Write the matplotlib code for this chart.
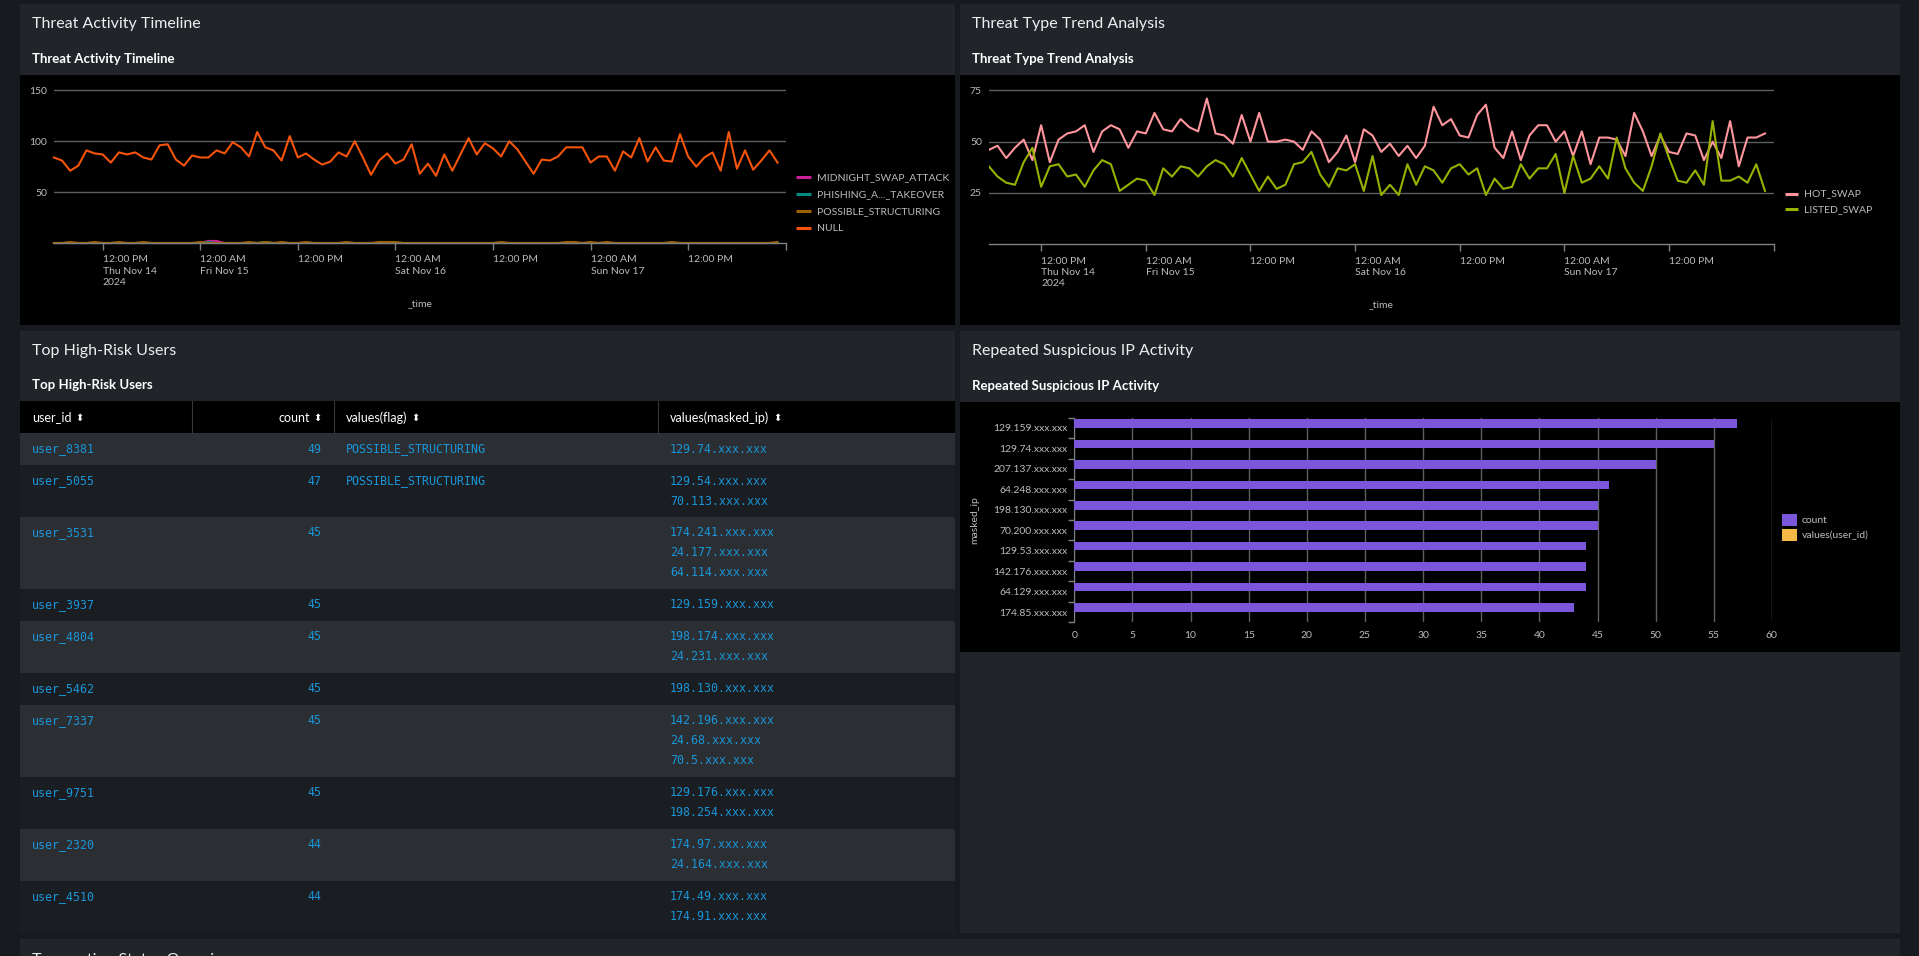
import pandas as pd
import matplotlib
matplotlib.use("Agg")
import matplotlib.pyplot as plt
import matplotlib.dates as mdates
from matplotlib.patches import Rectangle

plt.rcParams["font.family"] = ["Lato", "DejaVu Sans"]

# ---- data ----
hours = pd.date_range("2024-11-14 06:00", periods=90, freq="h")

null_counts = [84, 81, 71, 76, 91, 88, 87, 79, 89, 87, 89, 84, 82, 96, 97, 82, 76, 86, 84, 84,
               91, 88, 99, 94, 85, 109, 94, 91, 81, 105, 84, 88,
               82, 77, 80, 89, 85, 100, 84, 67, 81, 88, 78, 82, 97, 68, 78, 66, 87, 71,
               87, 103, 87, 98, 93, 85, 100, 92, 80, 68, 82, 81, 85,
               94, 94, 94, 79, 85, 85, 71, 90, 84, 103, 80, 94, 81, 80, 107, 85, 75, 84,
               89, 71, 109, 73, 91, 72, 81, 91, 79]
possible_structuring = [0, 0, 1, 0, 0, 1, 0, 0, 1, 0, 0, 1, 0, 0, 0, 0, 0, 0, 1, 0,
                        0, 0, 0, 0, 1, 0, 1, 0, 1, 0, 0, 1, 0, 0, 0, 0, 1, 0, 0, 0,
                        1, 1, 1, 0, 0, 0, 0, 0, 0, 0, 0, 0, 0, 0, 0, 1, 0, 0, 0, 0,
                        0, 0, 0, 1, 1, 0, 1, 0, 1, 0, 0, 0, 0, 0, 0, 0, 1, 0, 0, 0,
                        0, 0, 0, 0, 0, 0, 0, 0, 0, 1]
phishing_takeover = [0] * 19 + [1] + [0] * 6 + [1] + [0] * 63
midnight_swap = [0] * 19 + [2, 2] + [0] * 69

hot_swap = [46, 48, 42, 47, 51, 41, 58, 40, 51, 54, 55, 58, 45, 55, 58, 56, 47, 55, 54, 64,
            56, 55, 61, 57, 55, 71, 54, 53, 49, 63, 50, 64, 50, 50, 51,
            50, 46, 55, 51, 40, 45, 53, 40, 56, 53, 45, 49, 43, 48, 42, 48, 67, 58, 61, 53,
            52, 63, 68, 47, 42, 55, 41, 53, 58, 58, 50,
            55, 43, 55, 39, 52, 52, 51, 43, 64, 55, 43, 53, 45, 44, 54, 53, 41, 50, 42, 60,
            38, 52, 52, 54]
listed_swap = [38, 33, 30, 29, 40, 47, 28, 38, 39, 33, 34, 28, 36, 41, 39, 26, 29, 32, 31, 24,
               37, 33, 38, 37, 33, 38, 41, 39, 33, 42, 34, 26, 33, 27, 29,
               39, 40, 45, 34, 28, 37, 36, 39, 26, 43, 24, 29, 24, 39, 29, 38, 36, 30, 37, 39,
               34, 37, 24, 32, 27, 28, 39, 32, 37, 37, 44,
               25, 43, 30, 32, 38, 32, 52, 37, 30, 26, 38, 54, 42, 31, 30, 36, 29, 60, 31, 31,
               33, 30, 39, 26]

tick_labels = ["12:00 PM\nThu Nov 14\n2024", "12:00 AM\nFri Nov 15", "12:00 PM",
               "12:00 AM\nSat Nov 16", "12:00 PM", "12:00 AM\nSun Nov 17", "12:00 PM"]

masked_ips = ["129.159.xxx.xxx", "129.74.xxx.xxx", "207.137.xxx.xxx", "64.248.xxx.xxx",
              "198.130.xxx.xxx", "70.200.xxx.xxx", "129.53.xxx.xxx", "142.176.xxx.xxx",
              "64.129.xxx.xxx", "174.85.xxx.xxx"]
ip_counts = [57, 55, 50, 46, 45, 45, 44, 44, 44, 43]

user_ids = ["user_8381", "user_5055", "user_3531", "user_3937", "user_4804",
            "user_5462", "user_7337", "user_9751", "user_2320", "user_4510"]
user_counts = [49, 47, 45, 45, 45, 45, 45, 45, 44, 44]
user_flags = ["POSSIBLE_STRUCTURING", "POSSIBLE_STRUCTURING", "", "", "", "", "", "", "", ""]
user_ips = [["129.74.xxx.xxx"],
            ["129.54.xxx.xxx", "70.113.xxx.xxx"],
            ["174.241.xxx.xxx", "24.177.xxx.xxx", "64.114.xxx.xxx"],
            ["129.159.xxx.xxx"],
            ["198.174.xxx.xxx", "24.231.xxx.xxx"],
            ["198.130.xxx.xxx"],
            ["142.196.xxx.xxx", "24.68.xxx.xxx", "70.5.xxx.xxx"],
            ["129.176.xxx.xxx", "198.254.xxx.xxx"],
            ["174.97.xxx.xxx", "24.164.xxx.xxx"],
            ["174.49.xxx.xxx", "174.91.xxx.xxx"]]

# ---- colours ----
PAGE = "#171b1f"
PANEL = "#212529"
ROW_LIGHT = "#2b2f33"
ROW_DARK = "#1a1d21"
GRID = "#5c5f62"
AXIS = "#7d8084"
TICK = "#b9bcbf"
LINK = "#1a96d8"

W, H = 1919, 956
fig = plt.figure(figsize=(W / 100, H / 100), dpi=100, facecolor=PAGE)


def px_rect(x0, y0, x1, y1):
    return [x0 / W, 1 - y1 / H, (x1 - x0) / W, (y1 - y0) / H]


bg = fig.add_axes([0, 0, 1, 1])
bg.set_xlim(0, W)
bg.set_ylim(H, 0)
bg.axis("off")


def box(x0, y0, x1, y1, color):
    bg.add_patch(Rectangle((x0, y0), x1 - x0, y1 - y0, facecolor=color, edgecolor="none"))


# panels
box(20, 4, 955, 75, PANEL)
box(20, 75, 955, 325, "black")
box(960, 4, 1900, 75, PANEL)
box(960, 75, 1900, 325, "black")
box(20, 331, 955, 933, PANEL)
box(960, 331, 1900, 933, PANEL)
box(960, 402, 1900, 652, "black")
box(20, 939, 1900, 956, PANEL)

for x, y, title in [(32, 24, "Threat Activity Timeline"), (972, 24, "Threat Type Trend Analysis"),
                    (32, 351, "Top High-Risk Users"), (972, 351, "Repeated Suspicious IP Activity"),
                    (32, 960, "Transaction Status Overview")]:
    bg.text(x, y, title, fontsize=11.5, color="#eceef0", va="center")
for x, y, title in [(32, 58.5, "Threat Activity Timeline"), (972, 58.5, "Threat Type Trend Analysis"),
                    (32, 385, "Top High-Risk Users"), (972, 385.5, "Repeated Suspicious IP Activity")]:
    bg.text(x, y, title, fontsize=9.5, weight="bold", color="white", va="center")

# ---- table ----
box(20, 401, 955, 433, "black")
for sx in [192.3, 333.7, 657.7]:
    bg.plot([sx, sx], [401, 433], color="#33383d", lw=0.8)
header_y = 417.5
for x, label, ha in [(32, "user_id", "left"), (310, "count", "right"),
                     (346, "values(flag)", "left"), (670, "values(masked_ip)", "left")]:
    t = bg.text(x, header_y, label, fontsize=9, color="white", va="center", ha=ha)
    if ha == "left":
        bg.annotate("⬍", xy=(1, 0.5), xycoords=t, xytext=(3, 0), textcoords="offset points",
                    fontsize=7, color="white", va="center", family="DejaVu Sans")
    else:
        bg.text(x + 3, header_y, "⬍", fontsize=7, color="white", va="center",
                family="DejaVu Sans")

y = 433
for i, (uid, cnt, flag, ips) in enumerate(zip(user_ids, user_counts, user_flags, user_ips)):
    h = 12 + 20 * len(ips)
    box(20, y, 955, y + h, ROW_LIGHT if i % 2 == 0 else ROW_DARK)
    cell = dict(fontsize=8.4, color=LINK, va="center", family="DejaVu Sans Mono")
    bg.text(32, y + 16, uid, **cell)
    bg.text(321.5, y + 16, str(cnt), ha="right", **cell)
    bg.text(346, y + 16, flag, **cell)
    for k, ip in enumerate(ips):
        bg.text(670, y + 16 + 20 * k, ip, **cell)
    y += h


# ---- time charts ----
t_num = mdates.date2num(hours.to_pydatetime())
tick_pos = mdates.date2num(pd.date_range("2024-11-14 12:00", periods=7, freq="12h").to_pydatetime())
x_start = mdates.date2num(pd.Timestamp("2024-11-14 06:00").to_pydatetime())
x_end = mdates.date2num(pd.Timestamp("2024-11-18 00:00").to_pydatetime())


def style_time_axis(ax, ymax, yticks):
    ax.set_facecolor("black")
    ax.set_xlim(x_start, x_end)
    ax.set_ylim(0, ymax)
    for side in ["top", "right", "left"]:
        ax.spines[side].set_visible(False)
    ax.spines["bottom"].set_color(AXIS)
    ax.spines["bottom"].set_linewidth(1)
    ax.set_yticks(yticks)
    ax.set_yticklabels([str(v) for v in yticks])
    ax.tick_params(axis="y", length=0, pad=5, labelsize=7.5, labelcolor=TICK)
    ax.set_xticks(list(tick_pos) + [x_end])
    ax.set_xticklabels(tick_labels + [""], ha="left", linespacing=1.3)
    ax.tick_params(axis="x", length=5, width=1, color=AXIS, pad=4, labelsize=7.5, labelcolor=TICK)
    ax.grid(axis="y", color=GRID, lw=1)
    ax.set_axisbelow(True)
    ax.set_xlabel("_time", fontsize=7.5, color=TICK)
    ax.xaxis.label.set_va("center")


ax1 = fig.add_axes(px_rect(53.9, 89.3, 785.7, 243))
series1 = [("MIDNIGHT_SWAP_ATTACK", midnight_swap, "#cb2196"),
           ("PHISHING_A..._TAKEOVER", phishing_takeover, "#008c80"),
           ("POSSIBLE_STRUCTURING", possible_structuring, "#9d6300"),
           ("NULL", null_counts, "#f6540b")]
for name, vals, col in series1:
    ax1.plot(t_num, vals, color=col, lw=1.5, label=name, clip_on=False)
style_time_axis(ax1, 151, [50, 100, 150])
ax1.xaxis.set_label_coords(0.5, -(304 - 243) / (243 - 89.3))
for k, (name, vals, col) in enumerate(series1):
    yy = 177.3 + 17 * k
    bg.plot([796, 811], [yy, yy], color=col, lw=2.2, solid_capstyle="butt")
    bg.text(817.5, yy, name, fontsize=7.5, color=TICK, va="center")

ax2 = fig.add_axes(px_rect(988.8, 89.3, 1773.7, 244.3))
series2 = [("HOT_SWAP", hot_swap, "#ff969e"), ("LISTED_SWAP", listed_swap, "#99b100")]
for name, vals, col in series2:
    ax2.plot(t_num, vals, color=col, lw=1.5, label=name)
style_time_axis(ax2, 75.5, [25, 50, 75])
ax2.xaxis.set_label_coords(0.5, -(305 - 244.3) / (244.3 - 89.3))
for k, (name, vals, col) in enumerate(series2):
    yy = 194 + 15.3 * k
    bg.plot([1785, 1798], [yy, yy], color=col, lw=2.2, solid_capstyle="butt")
    bg.text(1804, yy, name, fontsize=7.5, color=TICK, va="center")

# ---- bar chart ----
ax3 = fig.add_axes(px_rect(1074.3, 417.7, 1771.9, 622.3))
ax3.set_facecolor("black")
pos = list(range(len(masked_ips)))
ax3.barh([p - 0.22 for p in pos], ip_counts, height=0.42, color="#7b56db", zorder=3)
ax3.set_xlim(0, 60)
ax3.set_ylim(len(masked_ips) - 0.5, -0.5)
ax3.set_yticks(pos)
ax3.set_yticklabels(masked_ips)
ax3.set_yticks([p - 0.5 for p in range(len(masked_ips) + 1)], minor=True)
ax3.tick_params(axis="y", which="major", length=0, pad=5, labelsize=7.5, labelcolor=TICK)
ax3.tick_params(axis="y", which="minor", length=4, width=1, color=AXIS)
ax3.set_xticks(range(0, 61, 5))
ax3.tick_params(axis="x", length=0, pad=6, labelsize=7.5, labelcolor=TICK)
ax3.grid(axis="x", color=GRID, lw=1)
ax3.set_axisbelow(True)
for side in ["top", "right", "bottom"]:
    ax3.spines[side].set_visible(False)
ax3.spines["left"].set_color(AXIS)
ax3.set_ylabel("masked_ip", fontsize=7.5, color=TICK)
ax3.yaxis.set_label_coords(-0.136, 0.5)
for k, (name, col) in enumerate([("count", "#7b56db"), ("values(user_id)", "#f5b945")]):
    yy = 514.3 + 14.8 * k
    box(1782, yy, 1797, yy + 11.5, col)
    bg.text(1802, yy + 6, name, fontsize=7.5, color=TICK, va="center")

fig.savefig("out.png", dpi=100, facecolor=PAGE)
